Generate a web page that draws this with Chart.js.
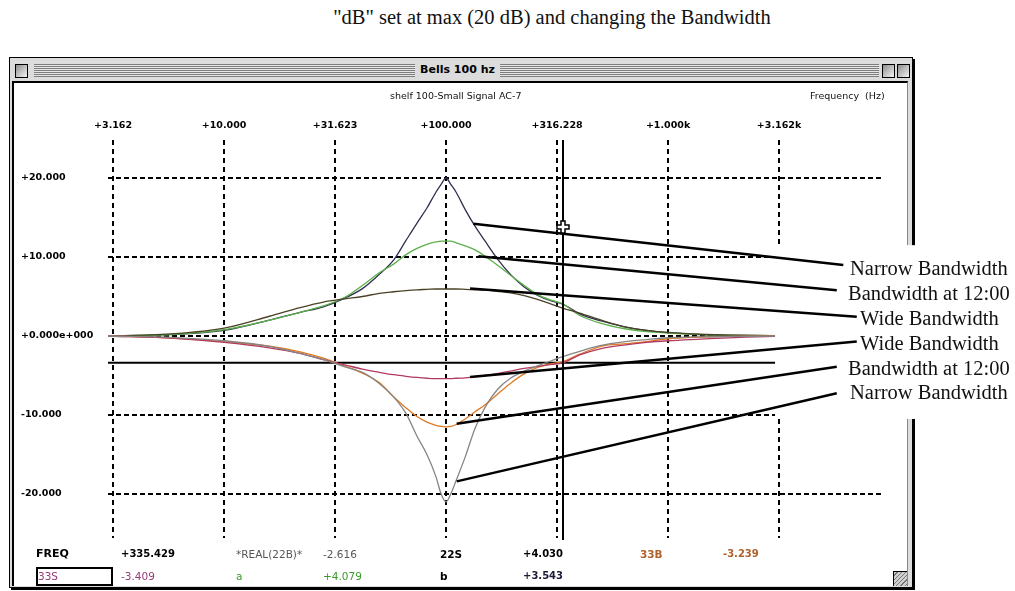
<!DOCTYPE html>
<html>
<head>
<meta charset="utf-8">
<title>Bells 100 hz</title>
<script src="https://cdn.jsdelivr.net/npm/chart.js@4.4.1/dist/chart.umd.min.js"></script>
<style>
  body { margin: 0; background: #fff; }
  #page { position: relative; width: 1015px; height: 591px; overflow: hidden; font-family: "DejaVu Sans", sans-serif; }
  .abs { position: absolute; white-space: nowrap; }
  #heading { left: 252px; top: 5px; width: 600px; text-align: center; font: 20.5px "Liberation Serif", serif; line-height: 24px; color: #111; }
  #win { left: 9px; top: 57px; width: 902px; height: 529px; border: 1px solid #000; background: #dcdcdc; box-shadow: 2px 2px 0 #000; }
  .stripes { top: 64px; height: 13px; background: repeating-linear-gradient(to bottom, #7d7d7d 0 1px, #e6e6e6 1px 2px); }
  .btn { top: 64px; width: 11px; height: 12px; border: 1px solid #000; background: linear-gradient(135deg, #8e8e8e, #f4f4f4); }
  #wintitle { left: 415px; top: 62px; width: 85px; text-align: center; font: bold 11px "DejaVu Sans", sans-serif; line-height: 16px; color: #000; }
  #content { left: 12px; top: 81px; width: 893px; height: 503px; background: #fff; border-top: 2px solid #000; border-left: 2px solid #000; border-right: 1px solid #888; }
  #grow { left: 893px; top: 571px; width: 13px; height: 14px; border-left: 1px solid #000; border-top: 1px solid #000; background: repeating-linear-gradient(135deg, #cfcfcf 0 2px, #777 2px 3px); }
  #rbox { left: 36px; top: 567px; width: 73px; height: 15px; border: 2px solid #000; }
  canvas { position: absolute; left: 0; top: 0; }
  .small { font-size: 9.5px; line-height: 14px; color: #111; }
  .ro { font-size: 10.5px; line-height: 14px; }
  .lbl { font: 20.5px "Liberation Serif", serif; line-height: 22px; color: #111; }
</style>
</head>
<body>
<div id="page">
  <div id="heading" class="abs">"dB" set at max (20 dB) and changing the Bandwidth</div>
  <div id="win" class="abs"></div>
  <div class="abs stripes" style="left:34px;width:381px"></div>
  <div class="abs stripes" style="left:500px;width:379px"></div>
  <div class="abs btn" style="left:15px"></div>
  <div class="abs btn" style="left:882px"></div>
  <div class="abs btn" style="left:897px"></div>
  <div id="wintitle" class="abs">Bells 100 hz</div>
  <div id="content" class="abs"></div>
  <div id="grow" class="abs"></div>
  <div id="rbox" class="abs"></div>
  <canvas id="eq" width="1015" height="591"></canvas>
  <div class="abs small" style="left:390px;top:89px">shelf 100-Small Signal AC-7</div>
  <div class="abs small" style="left:810px;top:89px">Frequency&nbsp;&nbsp;(Hz)</div>
</div>
<script>
// frequency samples (Hz) shared by all six responses
const freqHz = [3, 6, 10, 16, 22, 28, 35, 42, 50, 58, 66, 74, 82, 90, 95, 100, 105, 111, 122, 135,
  150, 170, 195, 225, 260, 300, 335, 400, 500, 630, 800, 1000, 1400, 2000, 3000, 5000, 9200];

// boosts
const narrowBoost = [0, 0.2, 0.7, 2.0, 3.0, 3.7, 4.8, 6.0, 7.8, 9.6, 12.1, 14.3, 16.2, 18.2, 19.2, 20.0, 19.2, 18.2, 16.0, 13.9,
  12.0, 9.8, 7.8, 6.2, 5.1, 4.4, 4.03, 2.8, 1.9, 1.2, 0.7, 0.42, 0.18, 0.08, 0.03, 0, 0];
const middleBoost = [0, 0.2, 0.8, 2.0, 3.0, 3.8, 4.9, 6.4, 8.0, 9.1, 10.3, 11.1, 11.6, 11.9, 12.0, 12.0, 12.0, 11.8, 11.4, 10.9,
  10.1, 9.0, 7.7, 6.4, 5.2, 4.5, 4.08, 2.6, 1.6, 0.95, 0.55, 0.38, 0.18, 0.08, 0.03, 0, 0];
const wideBoost = [0, 0.3, 1.0, 2.5, 3.6, 4.3, 4.7, 5.0, 5.4, 5.6, 5.75, 5.85, 5.9, 5.95, 5.95, 5.95, 5.95, 5.95, 5.9, 5.85,
  5.8, 5.65, 5.45, 5.1, 4.6, 4.0, 3.54, 2.9, 2.0, 1.2, 0.7, 0.45, 0.22, 0.1, 0.03, 0, 0];

// cuts
const narrowCut = [0, -0.2, -0.6, -1.3, -2.2, -3.0, -3.9, -4.6, -6.0, -7.7, -9.8, -12.7, -15.0, -17.8, -20.0, -21.0, -20.0, -18.3, -15.3, -11.7,
  -9.0, -6.8, -5.35, -4.45, -3.75, -3.1, -2.62, -1.95, -1.2, -0.75, -0.45, -0.22, -0.1, -0.05, 0, 0, 0];
const middleCut = [0, -0.3, -0.72, -1.3, -2.0, -2.8, -3.8, -4.7, -5.9, -7.7, -9.1, -10.2, -10.9, -11.3, -11.45, -11.5, -11.45, -11.2, -10.5, -9.6,
  -8.7, -7.4, -6.0, -4.8, -3.95, -3.5, -3.24, -2.3, -1.3, -1.0, -0.7, -0.35, -0.15, -0.05, 0, 0, 0];
const wideCut = [0, -0.3, -0.8, -1.5, -2.2, -3.0, -3.65, -4.2, -4.6, -4.9, -5.1, -5.25, -5.35, -5.4, -5.4, -5.4, -5.4, -5.35, -5.3, -5.15,
  -5.0, -4.75, -4.45, -4.1, -3.85, -3.6, -3.41, -2.4, -1.6, -1.15, -0.8, -0.6, -0.4, -0.2, -0.05, 0, 0];

// axes
const freqMin = 3.0, freqMax = 9200;
const freqTicks = [3.162, 10, 31.623, 100, 316.228, 1000, 3162];
const freqTickLabels = ['+3.162', '+10.000', '+31.623', '+100.000', '+316.228', '+1.000k', '+3.162k'];
const dbMin = -25.57, dbMax = 24.81;
const dbTicks = [-20, -10, 0, 10, 20];
const dbTickLabels = ['-20.000', '-10.000', '+0.000e+000', '+10.000', '+20.000'];

// cursor and markers
const cursorFreq = 335.429;
const cursorMarkDb = 13.8;
const refLineDb = -3.4;

// leader lines: [freq, dB] on the curve -> [freq, dB] next to the label
const leaders = [
  [[132.8, 14.2], [6160, 9.0]],
  [[139.8, 10.1], [5754, 5.8]],
  [[128.3, 6.0], [7080, 2.45]],
  [[128.3, -5.2], [7080, -0.7]],
  [[111.7, -11.1], [5754, -3.9]],
  [[111.7, -18.4], [5754, -7.25]]
];
const labelBox = { freq: 3034, topDb: 11.5, bottomDb: -10.5 };
const bandLabels = [
  ['Narrow Bandwidth', 850, 268],
  ['Bandwidth at 12:00', 848, 293],
  ['Wide Bandwidth', 860, 318],
  ['Wide Bandwidth', 860, 343],
  ['Bandwidth at 12:00', 848, 368],
  ['Narrow Bandwidth', 850, 392]
];

// readout rows at the bottom of the window
const readouts = [
  ['FREQ', 36, 554, '#000', 'bold', 11],
  ['+335.429', 121, 554, '#000', 'bold', 10],
  ['*REAL(22B)*', 236, 554, '#555', 'normal', 10.5],
  ['-2.616', 323, 554, '#555', 'normal', 10.5],
  ['22S', 440, 554, '#000', 'bold', 10.5],
  ['+4.030', 523, 554, '#000', 'bold', 10],
  ['33B', 640, 554, '#b0602a', 'bold', 10.5],
  ['-3.239', 723, 554, '#b0602a', 'bold', 10],
  ['33S', 38, 576, '#9a3a78', 'normal', 10.5],
  ['-3.409', 121, 576, '#9a3a78', 'normal', 10.5],
  ['a', 236, 576, '#3b9a2a', 'normal', 10.5],
  ['+4.079', 323, 576, '#3b9a2a', 'normal', 10.5],
  ['b', 440, 576, '#000', 'bold', 10.5],
  ['+3.543', 523, 576, '#1a1a3a', 'bold', 10]
];

const page = document.getElementById('page');
readouts.forEach(([t, x, y, c, w, s]) => {
  const d = document.createElement('div');
  d.className = 'abs ro';
  d.textContent = t;
  d.style.cssText = `left:${x}px;top:${y - 7}px;color:${c};font-weight:${w};font-size:${s}px`;
  page.appendChild(d);
});
bandLabels.forEach(([t, x, y]) => {
  const d = document.createElement('div');
  d.className = 'abs lbl';
  d.textContent = t;
  d.style.left = x + 'px';
  d.style.top = (y - 11) + 'px';
  page.appendChild(d);
});

const series = (vals) => freqHz.map((f, i) => ({ x: f, y: vals[i] }));

const plusMark = (ctx, cx, cy) => {
  const a = 6, w = 2;
  ctx.beginPath();
  ctx.moveTo(cx - w, cy - a); ctx.lineTo(cx + w, cy - a); ctx.lineTo(cx + w, cy - w);
  ctx.lineTo(cx + a, cy - w); ctx.lineTo(cx + a, cy + w); ctx.lineTo(cx + w, cy + w);
  ctx.lineTo(cx + w, cy + a); ctx.lineTo(cx - w, cy + a); ctx.lineTo(cx - w, cy + w);
  ctx.lineTo(cx - a, cy + w); ctx.lineTo(cx - a, cy - w); ctx.lineTo(cx - w, cy - w);
  ctx.closePath();
  ctx.fillStyle = '#fff';
  ctx.fill();
  ctx.lineWidth = 1.5;
  ctx.strokeStyle = '#000';
  ctx.stroke();
};

const overlay = {
  id: 'overlay',
  afterDatasetsDraw(chart) {
    const { ctx, chartArea, scales: { x, y } } = chart;
    ctx.save();
    // cursor line
    const cx = Math.round(x.getPixelForValue(cursorFreq));
    ctx.strokeStyle = '#000';
    ctx.lineWidth = 2;
    ctx.beginPath();
    ctx.moveTo(cx, chartArea.top);
    ctx.lineTo(cx, chartArea.bottom + 2);
    ctx.stroke();
    // white panel behind the labels
    const bx = x.getPixelForValue(labelBox.freq);
    const by0 = y.getPixelForValue(labelBox.topDb);
    const by1 = y.getPixelForValue(labelBox.bottomDb);
    ctx.fillStyle = '#fff';
    ctx.fillRect(bx, by0, chart.width - bx, by1 - by0);
    // leaders
    ctx.lineWidth = 2.5;
    ctx.strokeStyle = '#000';
    leaders.forEach(([a, b]) => {
      ctx.beginPath();
      ctx.moveTo(x.getPixelForValue(a[0]), y.getPixelForValue(a[1]));
      ctx.lineTo(x.getPixelForValue(b[0]), y.getPixelForValue(b[1]));
      ctx.stroke();
    });
    plusMark(ctx, cx, y.getPixelForValue(cursorMarkDb));
    ctx.restore();
  }
};

const tickFont = { family: 'DejaVu Sans', size: 9.5, weight: 'bold' };

new Chart(document.getElementById('eq'), {
  type: 'line',
  data: {
    datasets: [
      { label: '22B', data: series(narrowCut), borderColor: '#858585' },
      { label: '33S', data: series(wideCut), borderColor: '#b23a62' },
      { label: '33B', data: series(middleCut), borderColor: '#e07a22' },
      { label: 'b', data: series(wideBoost), borderColor: '#4a4226' },
      { label: 'a', data: series(middleBoost), borderColor: '#5cb04a' },
      { label: '22S', data: series(narrowBoost), borderColor: '#2e3050' },
      { label: 'ref', data: [{ x: freqMin, y: refLineDb }, { x: freqMax, y: refLineDb }], borderColor: '#000', borderWidth: 2 }
    ]
  },
  options: {
    responsive: false,
    animation: false,
    devicePixelRatio: 1,
    layout: { padding: { left: 21, right: 133, top: 100, bottom: 53 } },
    plugins: { legend: { display: false }, tooltip: { enabled: false } },
    elements: {
      point: { radius: 0 },
      line: { borderWidth: 1.3, cubicInterpolationMode: 'monotone' }
    },
    scales: {
      x: {
        type: 'logarithmic',
        position: 'top',
        min: freqMin,
        max: freqMax,
        afterBuildTicks: s => { s.ticks = freqTicks.map(v => ({ value: v })); },
        afterFit: s => { s.height = 40; },
        ticks: { autoSkip: false, maxRotation: 0, padding: 9, color: '#000', font: tickFont,
          callback: (v, i) => freqTickLabels[i] },
        grid: { color: '#000', lineWidth: 2, drawTicks: false },
        border: { display: false, dash: [5, 4] }
      },
      y: {
        min: dbMin,
        max: dbMax,
        afterBuildTicks: s => { s.ticks = dbTicks.map(v => ({ value: v })); },
        afterFit: s => { s.width = 87; },
        ticks: { crossAlign: 'far', padding: 0, color: '#000', font: tickFont,
          callback: (v, i) => dbTickLabels[i] },
        grid: { color: '#000', lineWidth: 2, drawTicks: false },
        border: { display: false, dash: [5, 3] }
      }
    }
  },
  plugins: [overlay]
});
</script>
</body>
</html>
